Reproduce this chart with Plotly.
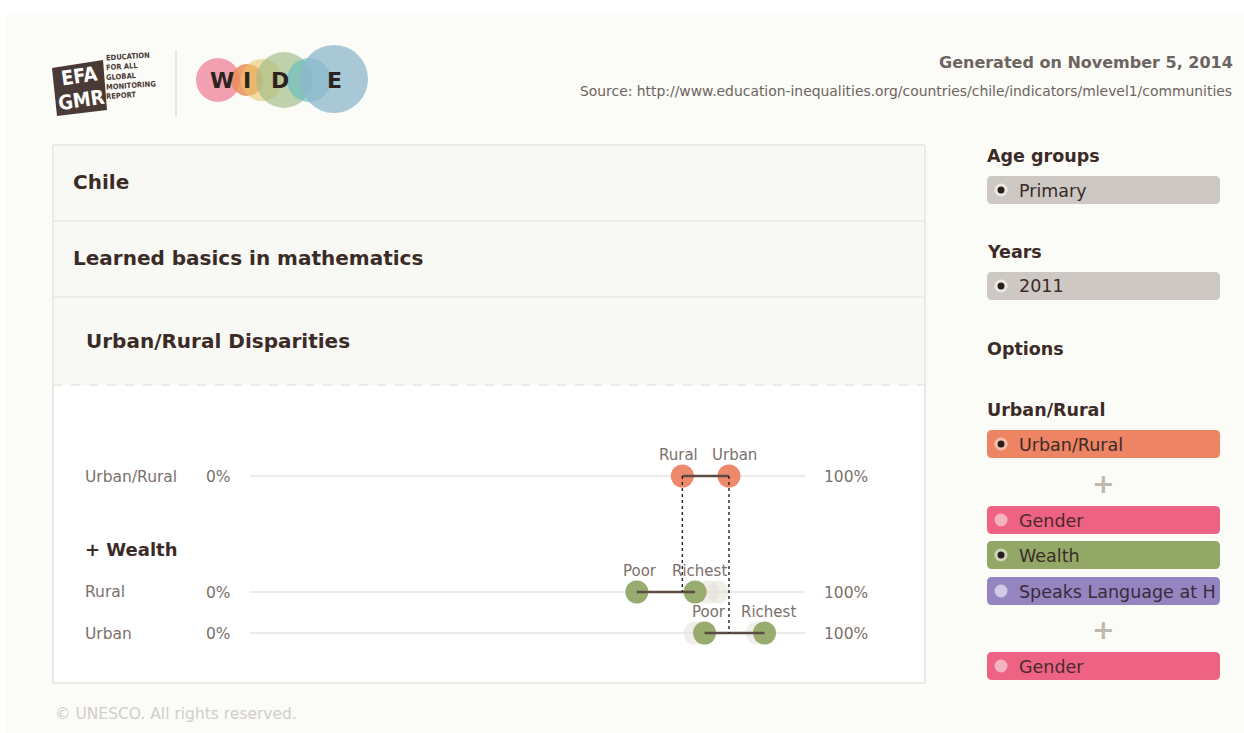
import plotly.graph_objects as go

# ---------------- data ----------------
row_groups = ["Urban/Rural", "Rural", "Urban"]
location_labels = ["Rural", "Urban"]
location_values = [77.9, 86.3]
wealth_labels = ["Poor", "Richest"]
rural_wealth_values = [69.7, 80.2]
urban_wealth_values = [81.9, 92.7]
rural_ghost_values = [82.5, 84.3]
urban_ghost_values = [80.2, 91.4]
axis_tick_labels = ["0%", "100%"]

# ---------------- layout constants ----------------
W, H = 1244, 733
ROW_Y = {"Urban/Rural": 476, "Rural": 592, "Urban": 633}
FONT = "DejaVu Sans"
DARK = "#3b2b27"
GRAY = "#7b706b"
ORANGE = "#ed8464"
GREEN = "#93a867"
PINK = "#ee6383"
PURPLE = "#9485c1"
BTN_GRAY = "#cdc8c3"


def px(x):
    return x / W


def py(y):
    return 1 - y / H


fig = go.Figure()
shapes = []
ann = []


def rect(x0, y0, x1, y1, fill, line=None, lw=0):
    shapes.append(dict(type="rect", xref="paper", yref="paper", x0=px(x0), y0=py(y0), x1=px(x1), y1=py(y1),
                       fillcolor=fill, line=dict(color=line or fill, width=lw), layer="below"))


def path(points, fill):
    p = "M" + " L".join(f"{px(x)},{py(y)}" for x, y in points) + " Z"
    shapes.append(dict(type="path", xref="paper", yref="paper", path=p, fillcolor=fill,
                       line=dict(width=0), layer="below"))


def rrect(x0, y0, x1, y1, r, fill):
    P = lambda x, y: f"{px(x)},{py(y)}"
    p = (f"M{P(x0+r,y0)} L{P(x1-r,y0)} Q{P(x1,y0)} {P(x1,y0+r)} L{P(x1,y1-r)} Q{P(x1,y1)} {P(x1-r,y1)} "
         f"L{P(x0+r,y1)} Q{P(x0,y1)} {P(x0,y1-r)} L{P(x0,y0+r)} Q{P(x0,y0)} {P(x0+r,y0)} Z")
    shapes.append(dict(type="path", xref="paper", yref="paper", path=p, fillcolor=fill,
                       line=dict(width=0), layer="below"))


def circle(cx, cy, r, fill, opacity=1.0):
    shapes.append(dict(type="circle", xref="paper", yref="paper", x0=px(cx - r), x1=px(cx + r),
                       y0=py(cy - r), y1=py(cy + r),
                       fillcolor=fill, opacity=opacity, line=dict(width=0), layer="below"))


def text(x, y, s, size, color, bold=False, xanchor="left", family=FONT, angle=0):
    # compensate for annotation padding
    if xanchor == "left":
        x -= 2
    elif xanchor == "right":
        x += 2
    ann.append(dict(xref="paper", yref="paper", x=px(x), y=py(y), text=(f"<b>{s}</b>" if bold else s),
                    showarrow=False, xanchor=xanchor, yanchor="middle", textangle=angle,
                    font=dict(family=family, size=size, color=color)))


def line(x0, y0, x1, y1, color, width=1, dash="solid"):
    shapes.append(dict(type="line", xref="paper", yref="paper", x0=px(x0), y0=py(y0), x1=px(x1), y1=py(y1),
                       line=dict(color=color, width=width, dash=dash), layer="below"))


# page background
rect(7, 13, W, H, "#fbfbf7")

# ---- EFA GMR logo ----
path([(52, 68), (103, 60), (107, 110), (57, 116)], "#4a3a35")
text(79, 76, "EFA", 20, "#ffffff", bold=True, xanchor="center", family="DejaVu Sans Condensed", angle=-8)
text(81, 100, "GMR", 20, "#ffffff", bold=True, xanchor="center", family="DejaVu Sans Condensed", angle=-8)
for i, w in enumerate(["EDUCATION", "FOR ALL", "GLOBAL", "MONITORING", "REPORT"]):
    text(106, 57 + i * 9.5, w, 7.5, "#4a3a35", bold=True, family="DejaVu Sans Condensed", angle=-4)
line(176, 50, 176, 117, "#d6d3ce", 1)

# ---- WIDE logo ----
circle(218, 80, 22, "#ee8fa6", 0.85)
circle(247, 80, 16, "#ec8a4f", 0.8)
circle(262, 80, 21, "#e8c66a", 0.6)
circle(284, 80, 28, "#9fbb86", 0.65)
circle(309, 80, 22, "#5fb9c0", 0.6)
circle(334, 79, 34, "#8cb7cb", 0.75)
for ch, cx in zip("WIDE", [222, 247, 280, 335]):
    text(cx, 81, ch, 22, "#2a2320", bold=True, xanchor="center")

# ---- header texts ----
text(1233, 63, "Generated on November 5, 2014", 16, "#6b6460", bold=True, xanchor="right")
text(1232, 91, "Source: http://www.education-inequalities.org/countries/chile/indicators/mlevel1/communities",
     13.9, "#6b6460", xanchor="right")

# ---- main panel ----
rect(53, 145, 925, 683, "#ffffff", "#e4e2dd", 1)
rect(53.5, 145.5, 924.5, 385, "#f8f8f4")
line(53, 221, 925, 221, "#e4e2dd", 1)
line(53, 297, 925, 297, "#e4e2dd", 1)
line(53, 385, 925, 385, "#dedcd7", 1, "dash")
shapes.append(dict(type="rect", xref="paper", yref="paper", x0=px(53), y0=py(145), x1=px(925), y1=py(683),
                   fillcolor="rgba(0,0,0,0)", line=dict(color="#e4e2dd", width=1), layer="below"))
text(73, 182, "Chile", 20, DARK, bold=True)
text(73, 258, "Learned basics in mathematics", 20, DARK, bold=True)
text(86, 341, "Urban/Rural Disparities", 20, DARK, bold=True)

# row labels
text(85, ROW_Y["Urban/Rural"] + 1, row_groups[0], 15.5, GRAY)
text(85, 549, "+ Wealth", 18, DARK, bold=True)
text(85, ROW_Y["Rural"], row_groups[1], 15.5, GRAY)
text(85, ROW_Y["Urban"] + 1, row_groups[2], 15.5, GRAY)

# footer
text(55, 714, "© UNESCO. All rights reserved.", 15.5, "#d2cec8")


# ---- right panel ----
def button(y0, fill, label, selected, radio_bg, txt_color=DARK):
    rrect(987, y0, 1220, y0 + 28, 5, fill)
    circle(1001, y0 + 14, 6.5, radio_bg)
    if selected:
        circle(1001, y0 + 14, 3.5, "#2a1f1c")
    text(1019, y0 + 14.5, label, 17.5, txt_color)


text(987, 156, "Age groups", 17.5, DARK, bold=True)
button(176, BTN_GRAY, "Primary", True, "#ece9e5")
text(987, 252, "Years", 17.5, DARK, bold=True)
button(272, BTN_GRAY, "2011", True, "#ece9e5")
text(987, 349, "Options", 17.5, DARK, bold=True)
text(987, 410, "Urban/Rural", 17.5, DARK, bold=True)
button(430, ORANGE, "Urban/Rural", True, "#f3c2ae")
text(1103, 483, "<b>+</b>", 27, "#bdb8b1", xanchor="center")
button(506, PINK, "Gender", False, "#f5b3c2", "#4a2a2e")
button(541, GREEN, "Wealth", True, "#cdd7b8")
button(577, PURPLE, "Speaks Language at H", False, "#d0cae6", "#3a2a3a")
text(1103, 629, "<b>+</b>", 27, "#bdb8b1", xanchor="center")
button(652, PINK, "Gender", False, "#f5b3c2", "#4a2a2e")

# ---- chart rows (grid lines + end labels) ----
for g in row_groups:
    shapes.append(dict(type="line", xref="x", yref="y", x0=0, x1=100, y0=ROW_Y[g], y1=ROW_Y[g],
                       line=dict(color="#d9d7d3", width=1), layer="below"))
    ann.append(dict(xref="x", yref="y", x=0, y=ROW_Y[g] + 1, text=axis_tick_labels[0], showarrow=False,
                    xanchor="right", xshift=-17, font=dict(family=FONT, size=15.5, color=GRAY)))
    ann.append(dict(xref="x", yref="y", x=100, y=ROW_Y[g] + 1, text=axis_tick_labels[1], showarrow=False,
                    xanchor="left", xshift=17, font=dict(family=FONT, size=15.5, color=GRAY)))

# ghost circles
for vals, g in [(rural_ghost_values, "Rural"), (urban_ghost_values, "Urban")]:
    fig.add_trace(go.Scatter(x=vals, y=[ROW_Y[g]] * 2, mode="markers",
                             marker=dict(size=23, color="rgba(225,224,214,0.5)", line=dict(width=0)),
                             hoverinfo="skip", showlegend=False))

# main circles
series = [
    (location_values, location_labels, "Urban/Rural", ORANGE, [-4, 6]),
    (rural_wealth_values, wealth_labels, "Rural", GREEN, [3, 4]),
    (urban_wealth_values, wealth_labels, "Urban", GREEN, [4, 4]),
]
for vals, labels, g, col, shifts in series:
    fig.add_trace(go.Scatter(x=vals, y=[ROW_Y[g]] * 2, mode="markers",
                             marker=dict(size=23, color=col, opacity=0.95, line=dict(width=0)),
                             showlegend=False, name=g, text=labels, cliponaxis=False))
    for v, lab, sh in zip(vals, labels, shifts):
        ann.append(dict(xref="x", yref="y", x=v, y=ROW_Y[g], yshift=21, xshift=sh, text=lab, showarrow=False,
                        xanchor="center", yanchor="middle",
                        font=dict(family=FONT, size=15, color=GRAY)))
for vals, labels, g, col, shifts in series:
    fig.add_trace(go.Scatter(x=vals, y=[ROW_Y[g]] * 2, mode="lines",
                             line=dict(color="#5d4c46", width=2.4), hoverinfo="skip", showlegend=False))

# dotted connectors from Urban/Rural points down to their breakdown rows
for v, g in zip(location_values, location_labels):
    fig.add_trace(go.Scatter(x=[v, v], y=[ROW_Y["Urban/Rural"], ROW_Y[g]],
                             mode="lines", line=dict(color="#2a1f1c", width=1.4, dash="dot"),
                             hoverinfo="skip", showlegend=False))

fig.update_layout(
    width=W, height=H, margin=dict(l=0, r=0, t=0, b=0),
    paper_bgcolor="#ffffff", plot_bgcolor="rgba(0,0,0,0)",
    xaxis=dict(domain=[250 / W, 805 / W], range=[0, 100], visible=False, fixedrange=True),
    yaxis=dict(domain=[0, 1], range=[H, 0], visible=False, fixedrange=True),
    shapes=shapes, annotations=ann, showlegend=False,
    font=dict(family=FONT),
)

fig.write_html("out.html", config={"displayModeBar": False},
               post_script="document.body.style.margin='0';document.body.style.padding='0';")
